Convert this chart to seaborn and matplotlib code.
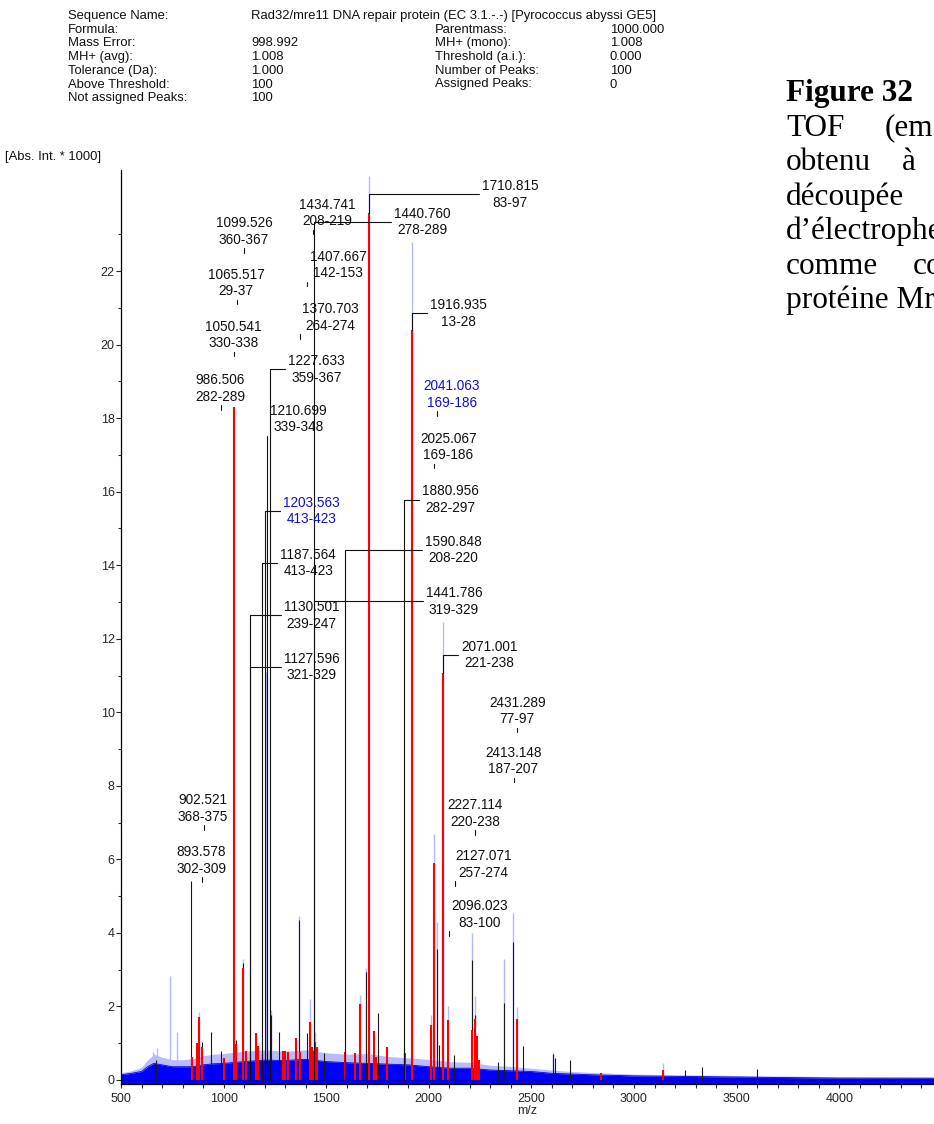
# MALDI-TOF peptide mass fingerprint, Rad32/mre11 (Pyrococcus abyssi)
import numpy as np
import pandas as pd
import matplotlib
matplotlib.use('Agg')
import matplotlib.pyplot as plt
import seaborn as sns
from matplotlib.ticker import MultipleLocator, FixedLocator

sns.set_style('ticks')
plt.rcParams['font.family'] = ['Liberation Sans', 'DejaVu Sans']

W, H = 934, 1124

# ---- header block (BioTools summary) ----
header_left = ['Sequence Name:', 'Formula:', 'Mass Error:', 'MH+ (avg):',
               'Tolerance (Da):', 'Above Threshold:', 'Not assigned Peaks:']
header_left_val = ['Rad32/mre11 DNA repair protein (EC 3.1.-.-) [Pyrococcus abyssi GE5]',
                   '', '998.992', '1.008', '1.000', '100', '100']
header_right = ['', 'Parentmass:', 'MH+ (mono):', 'Threshold (a.i.):',
                'Number of Peaks:', 'Assigned Peaks:', '']
header_right_val = ['', '1000.000', '1.008', '0.000', '100', '0', '']

# ---- raw spectrum: dense baseline band ----
band_mz = [500, 550, 600, 630, 660, 700, 750, 800, 850, 900, 950, 1000, 1100, 1200,
           1300, 1400, 1500, 1600, 1700, 1800, 1900, 2000, 2100, 2200, 2300, 2400,
           2500, 2600, 2700, 2800, 3000, 3500, 4000, 4470]
band_int = [0.14, 0.18, 0.23, 0.36, 0.45, 0.41, 0.36, 0.36, 0.36, 0.41, 0.44, 0.45,
            0.50, 0.54, 0.53, 0.56, 0.50, 0.47, 0.45, 0.43, 0.41, 0.36, 0.32, 0.32,
            0.27, 0.25, 0.23, 0.18, 0.16, 0.14, 0.11, 0.08, 0.05, 0.05]
halo_int = [0.20, 0.25, 0.34, 0.55, 0.70, 0.62, 0.55, 0.55, 0.58, 0.66, 0.70, 0.72,
            0.78, 0.82, 0.78, 0.82, 0.74, 0.70, 0.72, 0.64, 0.60, 0.56, 0.50, 0.48,
            0.40, 0.37, 0.32, 0.27, 0.23, 0.20, 0.16, 0.12, 0.09, 0.07]

# raw spectrum spikes (light blue)
raw_mz = [654, 674, 739, 771, 882, 1093, 1206, 1210, 1231, 1367, 1421, 1445, 1665,
          1692, 1710.8, 1916.9, 2009, 2025.1, 2038, 2071.0, 2096, 2209, 2225, 2366,
          2412, 2428, 2604, 3140]
raw_int = [0.77, 0.86, 2.83, 1.30, 1.84, 3.30, 11.1, 11.0, 1.90, 4.46, 2.20, 1.30, 2.30,
           3.05, 24.6, 22.8, 1.77, 6.70, 4.30, 12.46, 2.01, 4.00, 2.27, 3.28,
           4.55, 1.98, 0.75, 0.45]

# peak list (black sticks)
black_mz = [670, 842, 893, 937, 986, 1060, 1093, 1127, 1158, 1187, 1203, 1210, 1227,
            1231, 1271, 1367, 1405, 1440, 1489, 1590, 1692, 1751, 1880, 2038, 2051,
            2123, 2209, 2225, 2338, 2366, 2412, 2460, 2604, 2615, 2688, 3248, 3330, 3601]
black_int = [0.54, 5.40, 1.04, 1.30, 0.80, 1.08, 3.17, 0.70, 1.29, 0.70, 0.80, 0.80, 0.80,
             1.77, 1.31, 4.35, 1.27, 0.80, 0.73, 0.60, 2.94, 1.81, 0.90, 3.55, 0.94,
             0.68, 3.25, 1.78, 0.50, 2.10, 3.76, 0.92, 0.70, 0.60, 0.55, 0.27, 0.35, 0.29]

# matched peaks (red sticks)
red_mz = [845, 872, 882, 897, 1002, 1050.5, 1060, 1093, 1109, 1158, 1169, 1290, 1300,
          1312, 1351, 1370, 1421, 1430, 1437, 1445, 1455, 1593, 1641, 1665, 1710.8,
          1734, 1742, 1795, 1883, 1916.9, 2009, 2025.1, 2071.0, 2096, 2212, 2225,
          2233, 2245, 2428, 2839, 3140]
red_int = [0.62, 1.00, 1.70, 0.90, 0.59, 18.3, 0.98, 3.04, 0.80, 1.29, 0.93, 0.80, 0.80,
           0.75, 1.15, 0.75, 1.57, 0.90, 0.80, 1.04, 0.90, 0.77, 0.73, 2.07, 23.58,
           1.33, 0.63, 0.90, 0.73, 20.4, 1.49, 5.90, 11.08, 1.63, 1.36, 1.66,
           1.20, 0.54, 1.66, 0.18, 0.27]

# ---- peak annotations ----
lab_mz = [1710.815, 1434.741, 1440.760, 1099.526, 1407.667, 1065.517, 1916.935,
          1370.703, 1050.541, 1227.633, 986.506, 2041.063, 1210.699, 2025.067,
          1880.956, 1203.563, 1590.848, 1187.564, 1441.786, 1130.501, 2071.001,
          1127.596, 2431.289, 2413.148, 902.521, 2227.114, 893.578, 2127.071, 2096.023]
lab_range = ['83-97', '208-219', '278-289', '360-367', '142-153', '29-37', '13-28',
             '264-274', '330-338', '359-367', '282-289', '169-186', '339-348', '169-186',
             '282-297', '413-423', '208-220', '413-423', '319-329', '239-247', '221-238',
             '321-329', '77-97', '187-207', '368-375', '220-238', '302-309', '257-274',
             '83-100']
lab_blue = ['2041.063', '1203.563']
# label placement (centre of the two-line block, in m/z / intensity units)
lab_x = [2395.7, 1507.3, 1970.3, 1099.4, 1559.0, 1060.4, 2143.8, 1521.9, 1047.3,
         1453.7, 982.5, 2111.6, 1364.0, 2096.0, 2106.7, 1429.3, 2119.4, 1412.8,
         2122.8, 1429.3, 2294.8, 1429.3, 2431.3, 2411.8, 898.1, 2225.1, 889.9,
         2265.6, 2246.1]
lab_y = [24.09, 23.58, 23.34, 23.08, 22.17, 21.68, 20.85, 20.74, 20.26, 19.33, 18.81,
         18.65, 17.98, 17.22, 15.78, 15.48, 14.41, 14.06, 13.02, 12.64, 11.56, 11.23,
         10.03, 8.67, 7.38, 7.25, 5.97, 5.86, 4.50]
lab_kind = ['elbow', 'tick', 'elbow', 'tick', 'tick', 'tick', 'elbow', 'tick', 'tick',
            'elbow', 'tick', 'tick', 'up', 'tick', 'elbow', 'elbow', 'elbow', 'elbow',
            'elbow', 'elbow', 'elbow', 'elbow', 'tick', 'tick', 'tick', 'tick', 'tick',
            'tick', 'tick']
lab_base = [23.58, 0, 0, 0, 0, 0, 20.4, 0, 0, 0, 0, 0, 0, 0, 0, 0, 0, 0, 0, 0, 11.08,
            0, 0, 0, 0, 0, 0, 0, 0]

# ---- figure ----
fig = plt.figure(figsize=(W / 100, H / 100), dpi=100)
ax_l, ax_b, ax_t = 121, 1084, 170
ax = fig.add_axes([ax_l / W, 1 - ax_b / H, (W - ax_l) / W, (ax_b - ax_t) / H])
xmin, xmax = 500, 500 + (W - ax_l) / 0.2052
ymin, ymax = -0.11, 24.75
ax.set_xlim(xmin, xmax)
ax.set_ylim(ymin, ymax)
px_y = (ymax - ymin) / (ax_b - ax_t)      # intensity per pixel

band = pd.DataFrame({'mz': band_mz, 'int': band_int, 'halo': halo_int})

# light-blue raw spikes
ax.vlines(raw_mz, 0, raw_int, color='#b4baff', lw=1.0, zorder=1)
ax.fill_between(band['mz'], ymin, band['halo'], color='#b8bcff', lw=0, zorder=1.5)
ax.fill_between(band['mz'], ymin, band['int'], color='#0000ff', lw=0, zorder=2)
sns.lineplot(data=band, x='mz', y='int', color='#0000e0', lw=0.6, ax=ax, zorder=2.1)
ax.axhline(0, color='#0000cc', lw=0.8, zorder=2.2)

ax.vlines(black_mz, 0, black_int, color='#1a1a1a', lw=0.8, zorder=3)
ax.vlines(red_mz, 0, red_int, color='#ff0000', lw=1.5, zorder=4)

# labels
renderer = fig.canvas.get_renderer()
fs = 9.8
off = 8.3  # px from block centre to each line centre
for mz, rng, lx, ly, kind, base in zip(lab_mz, lab_range, lab_x, lab_y, lab_kind, lab_base):
    top = f'{mz:.3f}'
    col = '#1010d0' if top in lab_blue else '#111111'
    t1 = ax.text(lx, ly + off * px_y, top, ha='center', va='center', fontsize=fs,
                 color=col, zorder=6)
    t2 = ax.text(lx, ly - off * px_y, rng, ha='center', va='center', fontsize=fs,
                 color=col, zorder=6)
    if kind == 'tick':
        ax.plot([mz, mz], [ly - (off + 8.5) * px_y, ly - (off + 13) * px_y],
                color='#111111', lw=0.8, zorder=5)
    elif kind == 'up':
        ax.plot([mz, mz], [base, ly - (off + 8.5) * px_y], color='#111111', lw=0.8, zorder=5)
    else:
        x0 = min(t1.get_window_extent(renderer).x0, t2.get_window_extent(renderer).x0)
        xe = ax.transData.inverted().transform((x0 - 3, 0))[0]
        ax.plot([mz, mz, xe], [base, ly, ly], color='#111111', lw=0.8, zorder=5)

# axes styling
for s in ['top', 'right']:
    ax.spines[s].set_visible(False)
for s in ['left', 'bottom']:
    ax.spines[s].set_linewidth(0.9)
    ax.spines[s].set_color('black')
ax.xaxis.set_major_locator(MultipleLocator(500))
ax.xaxis.set_minor_locator(MultipleLocator(100))
ax.yaxis.set_major_locator(FixedLocator(list(range(0, 23, 2))))
ax.yaxis.set_minor_locator(FixedLocator(list(range(1, 24, 2))))
ax.tick_params(axis='x', which='both', direction='out', length=3.2, width=0.8,
               labelsize=9, pad=3)
ax.tick_params(axis='y', which='major', direction='out', length=3.5, width=0.8,
               labelsize=9, pad=1)
ax.tick_params(axis='y', which='minor', direction='out', length=2.2, width=0.8)
ax.set_xlabel('m/z', fontsize=9, labelpad=0)
ax.set_ylabel('')
ax.set_facecolor('white')

# header text
def ftxt(x, y, s, **kw):
    fig.text(x / W, 1 - y / H, s, va='center', ha='left', **kw)

hfs = 9.4
for i in range(7):
    y = 16 + 13.7 * i
    ftxt(68, y, header_left[i], fontsize=hfs, color='#111111')
    ftxt(251, y, header_left_val[i], fontsize=hfs, color='#111111')
    ftxt(435, y, header_right[i], fontsize=hfs, color='#111111')
    ftxt(610, y, header_right_val[i], fontsize=hfs, color='#111111')
ftxt(5, 157, '[Abs. Int. * 1000]', fontsize=hfs, color='#111111')

# caption text on the right (cut by the page edge)
serif = ['Liberation Serif', 'DejaVu Serif']
cap_words = [('Figure 32', 786, 93.5, 'bold'), ('TOF', 786, 128, 'normal'),
             ('(em', 885, 128, 'normal'), ('obtenu', 786, 162.5, 'normal'),
             ('à', 902, 162.5, 'normal'), ('découpée', 786, 197, 'normal'),
             ('d’électrophe', 786, 231.5, 'normal'), ('comme', 786, 266, 'normal'),
             ('co', 913, 266, 'normal'), ('protéine Mr', 786, 300.5, 'normal')]
for s, x, y, wgt in cap_words:
    ftxt(x, y, s, fontsize=22.5, family=serif, fontweight=wgt, color='black')

fig.savefig('out.png', dpi=100, facecolor='white')
